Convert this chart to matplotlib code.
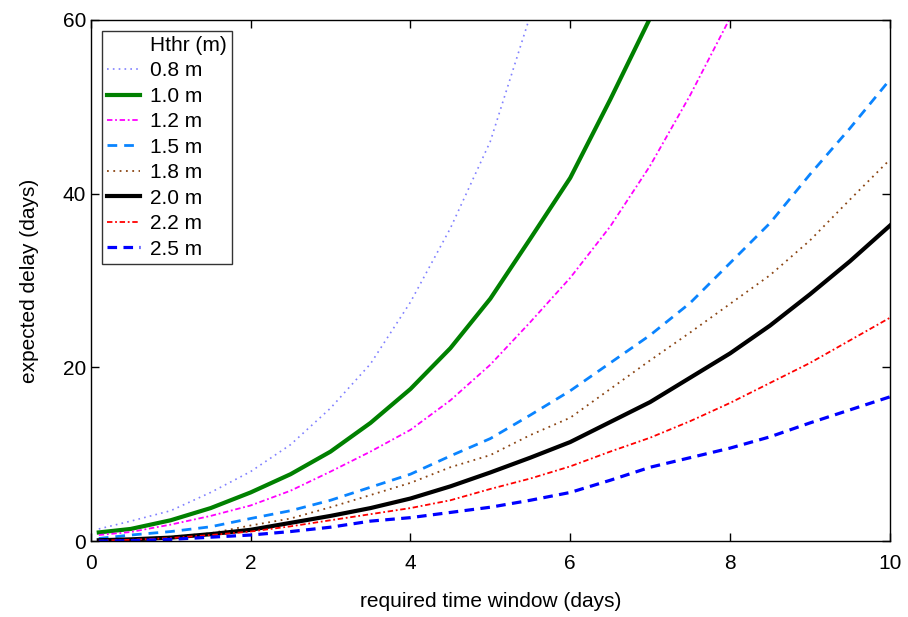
import matplotlib
matplotlib.use("Agg")
import matplotlib.pyplot as plt
from matplotlib.lines import Line2D

plt.rcParams['font.family'] = ['Liberation Sans', 'DejaVu Sans']

x = [0.1, 0.5, 1, 1.5, 2, 2.5, 3, 3.5, 4, 4.5, 5, 5.5, 6, 6.5, 7, 7.5, 8, 8.5, 9, 9.5, 10]

h08 = [1.4, 2.3, 3.5, 5.6, 8.0, 11.1, 15.3, 20.4, 27.5, 36.0, 46.0, 60.5]
h10 = [1.0, 1.4, 2.4, 3.8, 5.6, 7.7, 10.3, 13.6, 17.5, 22.2, 27.9, 34.8, 41.8, 50.8, 60.2]
h12 = [0.7, 1.05, 1.9, 2.9, 4.1, 5.8, 8.0, 10.3, 12.8, 16.2, 20.3, 25.2, 30.3, 36.2, 43.2, 51.3, 60.2]
h15 = [0.3, 0.7, 1.1, 1.65, 2.6, 3.5, 4.7, 6.2, 7.7, 9.8, 11.8, 14.5, 17.3, 20.5, 23.7, 27.4, 32.0, 36.6, 42.2, 47.5, 53.1]
h18 = [0.1, 0.25, 0.5, 0.9, 1.8, 2.6, 3.9, 5.3, 6.7, 8.5, 9.9, 12.2, 14.2, 17.5, 20.8, 24.0, 27.3, 30.6, 34.6, 39.3, 43.9]
h20 = [0.1, 0.2, 0.4, 0.8, 1.3, 2.1, 2.9, 3.8, 4.9, 6.3, 7.9, 9.6, 11.4, 13.7, 16.0, 18.8, 21.6, 24.8, 28.4, 32.2, 36.3]
h22 = [0.05, 0.15, 0.35, 0.7, 1.1, 1.7, 2.4, 3.1, 3.8, 4.7, 6.0, 7.2, 8.6, 10.3, 11.9, 13.8, 15.9, 18.2, 20.5, 23.1, 25.7]
h25 = [0.0, 0.05, 0.2, 0.45, 0.7, 1.1, 1.6, 2.3, 2.7, 3.3, 3.9, 4.7, 5.6, 7.0, 8.5, 9.6, 10.7, 12.0, 13.6, 15.1, 16.6]

labels = ['0.8 m', '1.0 m', '1.2 m', '1.5 m', '1.8 m', '2.0 m', '2.2 m', '2.5 m']
legend_title = 'Hthr (m)'
x_ticks = [0, 2, 4, 6, 8, 10]
y_ticks = [0, 20, 40, 60]

FS = 15

fig = plt.figure(figsize=(9.08, 6.17), dpi=100)
ax = fig.add_axes([0.100, 0.123, 0.880, 0.845])

series = [h08, h10, h12, h15, h18, h20, h22, h25]
styles = [
    dict(color='#8080FF', lw=1.2, linestyle=(0, (1, 2.5))),
    dict(color='#008000', lw=3.0, linestyle='-'),
    dict(color='#FF00FF', lw=1.3, linestyle=(0, (3, 1.5, 1, 1.5))),
    dict(color='#0A84FF', lw=2.0, linestyle=(0, (3.5, 2.5))),
    dict(color='#8B4513', lw=1.3, linestyle=(0, (1, 2.5))),
    dict(color='#000000', lw=3.0, linestyle='-'),
    dict(color='#FF0000', lw=1.3, linestyle=(0, (3, 1.5, 1, 1.5))),
    dict(color='#0000FF', lw=2.3, linestyle=(0, (3, 2))),
]

handles = [Line2D([], [], linestyle='none')]
names = [legend_title]
for ys, st, lab in zip(series, styles, labels):
    ln, = ax.plot(x[:len(ys)], ys, label=lab, **st)
    handles.append(ln)
    names.append(lab)

ax.set_xlim(0, 10)
ax.set_ylim(0, 60)
ax.set_xticks(x_ticks)
ax.set_yticks(y_ticks)
ax.tick_params(direction='in', top=True, right=True, length=6, width=1, labelsize=FS)
ax.tick_params(axis='x', pad=9)
ax.tick_params(axis='y', pad=3.5)
for s in ax.spines.values():
    s.set_linewidth(1.0)
ax.set_xlabel('required time window (days)', fontsize=FS, labelpad=14)
ax.set_ylabel('expected delay (days)', fontsize=FS, labelpad=17)

leg = ax.legend(handles, names, loc='upper left', bbox_to_anchor=(0.0138, 0.979),
                fontsize=FS, frameon=True, fancybox=False, edgecolor='black',
                handlelength=1.6, handletextpad=0.45, labelspacing=0.31,
                borderpad=0.25, borderaxespad=0)
leg.get_frame().set_linewidth(1.0)

fig.savefig('out.png', dpi=100)
